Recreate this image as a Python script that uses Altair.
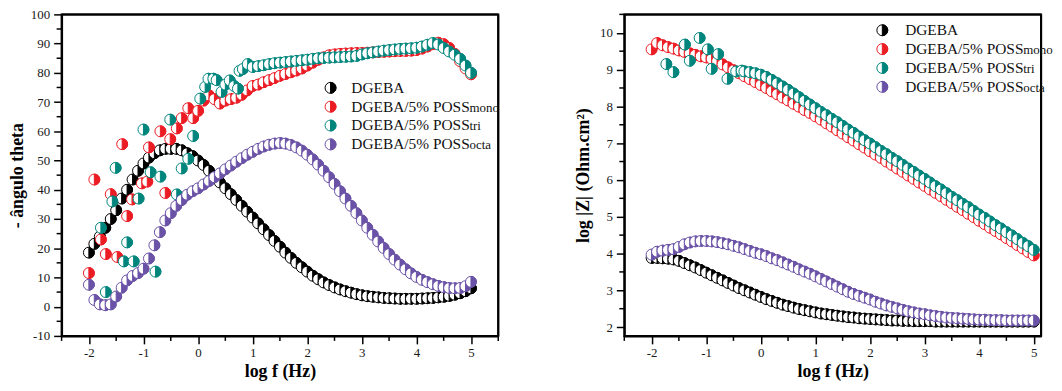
import altair as alt
import pandas as pd

SERIF = "Liberation Serif"

# ---------------- data ----------------
LOGF = [-2.0, -1.9, -1.8, -1.7, -1.6, -1.5, -1.4, -1.3, -1.2, -1.1,
        -1.0, -0.9, -0.8, -0.7, -0.6, -0.5, -0.4, -0.3, -0.2, -0.1,
        0.0, 0.1, 0.2, 0.3, 0.4, 0.5, 0.6, 0.7, 0.8, 0.9,
        1.0, 1.1, 1.2, 1.3, 1.4, 1.5, 1.6, 1.7, 1.8, 1.9,
        2.0, 2.1, 2.2, 2.3, 2.4, 2.5, 2.6, 2.7, 2.8, 2.9,
        3.0, 3.1, 3.2, 3.3, 3.4, 3.5, 3.6, 3.7, 3.8, 3.9,
        4.0, 4.1, 4.2, 4.3, 4.4, 4.5, 4.6, 4.7, 4.8, 4.9, 5.0]

# phase angle (left panel)
PHASE_DGEBA = [18.5, 21.5, 24, 27, 30, 33, 37, 40, 43.5, 46.5,
               49, 51, 52.5, 53.5, 54, 54, 54, 53.5, 52.5, 51.5,
               50, 48.5, 46.5, 44.5, 42.5, 40.5, 38.5, 36.5, 34.5, 32.5,
               30.5, 28.5, 26.5, 24.5, 22.5, 20.5, 18.5, 16.7, 15, 13.5,
               12, 10.6, 9.4, 8.3, 7.4, 6.6, 5.9, 5.3, 4.8, 4.3,
               3.9, 3.6, 3.4, 3.2, 3.0, 2.9, 2.8, 2.7, 2.7, 2.7,
               2.7, 2.8, 2.9, 3.0, 3.2, 3.4, 3.7, 4.1, 4.6, 5.3, 6.3]

PHASE_OCTA = [7.5, 2.3, 0.8, 0.5, 0.8, 3.5, 6.5, 9, 10.5, 11.5,
              13, 16.5, 21, 25.5, 29.5, 32, 34.5, 36.5, 38.3, 39.5,
              40.5, 41.8, 43, 44.3, 45.6, 47, 48.3, 49.6, 50.8, 52,
              53, 54, 54.8, 55.4, 55.8, 56, 55.8, 55.3, 54.5, 53.4,
              52, 50.4, 48.6, 46.5, 44.3, 42, 39.5, 37, 34.5, 32,
              29.5, 27, 24.6, 22.3, 20.1, 18, 16.1, 14.4, 12.8, 11.4,
              10.2, 9.2, 8.4, 7.7, 7.1, 6.7, 6.4, 6.3, 6.4, 7.0, 8.5]

PHASE_MONO_LOW_X = [-2.0, -1.9, -1.78, -1.69, -1.6, -1.48, -1.39, -1.3, -1.21, -1.03,
                    -0.93, -0.9, -0.69, -0.6, -0.51, -0.39, -0.3, -0.18, -0.09, 0.0,
                    0.1, 0.2, 0.3, 0.4, 0.5, 0.6, 0.7, 0.8, 0.9, 1.0]
PHASE_MONO_LOW_Y = [11.5, 43.5, 23, 18, 38.5, 17, 55.6, 31, 36.7, 42.2,
                    42.8, 54.5, 60, 38.9, 57.3, 61, 64.5, 67.9, 64.5, 67,
                    70.5, 72.3, 71, 69.5, 70.5, 71, 71.5, 72.5, 74, 75.5]
PHASE_MONO_HIGH_Y = [76, 76.8, 77.5, 78.2, 79, 79.6, 80.2, 80.8, 81.5, 82.5,
                     83.5, 84.5, 85.3, 86, 86.3, 86.5, 86.6, 86.7, 86.8, 86.8,
                     86.9, 87, 87.1, 87.2, 87.3, 87.4, 87.5, 87.5, 87.6, 87.8,
                     88.3, 89, 89.8, 90.3, 89.8, 88.5, 86.5, 84, 81.5, 79.5]

PHASE_TRI_LOW_X = [-1.78, -1.69, -1.57, -1.51, -1.36, -1.3, -1.18, -1.09, -1.0, -0.87,
                   -0.78, -0.69, -0.51, -0.39, -0.3, -0.18, -0.09, 0.04, 0.13, 0.19,
                   0.28, 0.34, 0.43, 0.5, 0.58, 0.66, 0.73, 0.76, 0.82, 0.91]
PHASE_TRI_LOW_Y = [27, 5, 36, 47.5, 15.5, 22, 15.5, 37, 60.6, 46,
                   12, 44.5, 64, 38.4, 47.3, 50.6, 58.4, 71.2, 75.2, 78,
                   78, 77.5, 73.5, 76, 77.4, 75.5, 74.6, 80.7, 81.3, 83]
PHASE_TRI_HIGH_Y = [82,
                    82.3, 82.6, 83, 83.3, 83.5, 83.7, 83.9, 84.1, 84.3, 84.5,
                    84.8, 85, 85.1, 85.2, 85.3, 85.4, 85.5, 85.6, 85.8, 86.3,
                    86.7, 87, 87.3, 87.6, 87.8, 88, 88.2, 88.3, 88.4, 88.6,
                    89, 89.6, 90.2, 89.7, 88.5, 87.3, 86.2, 84.8, 82.5, 80]

# log |Z| (right panel)
LOGZ_DGEBA = [3.88, 3.88, 3.87, 3.86, 3.84, 3.8, 3.74, 3.68, 3.62, 3.55,
              3.48, 3.41, 3.34, 3.27, 3.2, 3.13, 3.06, 3.0, 2.94, 2.88,
              2.82, 2.76, 2.71, 2.66, 2.61, 2.57, 2.53, 2.49, 2.46, 2.43,
              2.4, 2.37, 2.35, 2.33, 2.31, 2.29, 2.27, 2.26, 2.24, 2.23,
              2.22, 2.21, 2.2, 2.19, 2.18, 2.18, 2.17, 2.17, 2.16, 2.16,
              2.16, 2.16, 2.15, 2.15, 2.15, 2.15, 2.15, 2.15, 2.15, 2.15,
              2.15, 2.15, 2.15, 2.15, 2.15, 2.15, 2.15, 2.15, 2.15, 2.15, 2.15]

LOGZ_MONO = [9.55, 9.72, 9.66, 9.61, 9.57, 9.52, 9.48, 9.44, 9.4, 9.36,
             9.33, 9.29, 9.23, 9.14, 9.06, 8.98, 8.9, 8.82, 8.74, 8.66,
             8.58, 8.5, 8.41, 8.33, 8.24, 8.16, 8.07, 7.99, 7.9, 7.82,
             7.73, 7.64, 7.54, 7.45, 7.35, 7.26, 7.16, 7.07, 6.97, 6.88,
             6.78, 6.69, 6.6, 6.5, 6.41, 6.31, 6.22, 6.12, 6.03, 5.93,
             5.84, 5.74, 5.65, 5.56, 5.46, 5.37, 5.27, 5.18, 5.08, 4.99,
             4.89, 4.8, 4.7, 4.61, 4.52, 4.42, 4.33, 4.23, 4.14, 4.04, 3.95]

LOGZ_TRI_LOW_X = [-1.73, -1.6, -1.39, -1.3, -1.12, -0.97, -0.9, -0.78, -0.61, -0.45, -0.35]
LOGZ_TRI_LOW_Y = [9.15, 8.93, 9.68, 9.24, 9.86, 9.55, 9.02, 9.42, 8.75, 8.95, 8.97]
LOGZ_TRI_HIGH_Y = [8.95, 8.93, 8.9, 8.86, 8.8, 8.72, 8.63, 8.54, 8.45, 8.35,
                   8.25, 8.15, 8.05, 7.95,
                   7.85, 7.76, 7.66, 7.57, 7.47, 7.37, 7.28, 7.18, 7.08, 6.99,
                   6.89, 6.79, 6.7, 6.6, 6.51, 6.41, 6.31, 6.22, 6.12, 6.03,
                   5.93, 5.83, 5.74, 5.64, 5.54, 5.45, 5.35, 5.26, 5.16, 5.06,
                   4.97, 4.87, 4.77, 4.68, 4.58, 4.49, 4.39, 4.29, 4.2, 4.1]

LOGZ_OCTA = [3.97, 4.05, 4.08, 4.1, 4.12, 4.18, 4.25, 4.3, 4.33, 4.34,
             4.34, 4.33, 4.31, 4.28, 4.25, 4.21, 4.17, 4.12, 4.07, 4.02,
             3.98, 3.93, 3.87, 3.82, 3.76, 3.7, 3.64, 3.57, 3.51, 3.45,
             3.38, 3.31, 3.24, 3.17, 3.1, 3.03, 2.96, 2.9, 2.85, 2.8,
             2.75, 2.69, 2.64, 2.59, 2.55, 2.51, 2.47, 2.43, 2.4, 2.37,
             2.35, 2.32, 2.3, 2.28, 2.26, 2.25, 2.24, 2.23, 2.22, 2.21,
             2.2, 2.2, 2.19, 2.19, 2.19, 2.18, 2.18, 2.18, 2.18, 2.18, 2.18]

SERIES = ["DGEBA", "mono", "tri", "octa"]
COLORS = ["#000000", "#ec1c24", "#00857c", "#6a52a6"]
LEGEND_MAIN = ["DGEBA", "DGEBA/5% POSS", "DGEBA/5% POSS", "DGEBA/5% POSS"]
LEGEND_SUB = ["", "mono", "tri", "octa"]

X_TICKS = [-2, -1, 0, 1, 2, 3, 4, 5]
X1_MINOR = [-2.5, -1.5, -0.5, 0.5, 1.5, 2.5, 3.5, 4.5, 5.5]
X2_MINOR = [-2.5, -1.5, -0.5, 0.5, 1.5, 2.5, 3.5, 4.5]
Y1_TICKS = [-10, 0, 10, 20, 30, 40, 50, 60, 70, 80, 90, 100]
Y1_MINOR = [-5, 5, 15, 25, 35, 45, 55, 65, 75, 85, 95]
Y2_TICKS = [2, 3, 4, 5, 6, 7, 8, 9, 10]
Y2_MINOR = [2.5, 3.5, 4.5, 5.5, 6.5, 7.5, 8.5, 9.5, 10.5]

# ---------------- helpers ----------------
HALF = "M0,-1A1,1 0 0,1 0,1Z"   # right half of a unit circle
fill_scale = alt.Scale(domain=["white"] + SERIES, range=["#ffffff"] + COLORS)
stroke_scale = alt.Scale(domain=SERIES, range=COLORS)
shape_scale = alt.Scale(domain=["w", "c"], range=["circle", HALF])
MSIZE = 121
PH = 324  # plot height


def build_points(series_list):
    rows = []
    seq = 0
    for name, xs, ys in series_list:
        for x, y in zip(xs, ys):
            rows.append(dict(x=x, y=y, series=name, half="w", key="white", seq=seq))
            seq += 1
            rows.append(dict(x=x, y=y, series=name, half="c", key=name, seq=seq))
            seq += 1
    return pd.DataFrame(rows)


def style_enc():
    return dict(
        fill=alt.Fill("key:N", scale=fill_scale, legend=None),
        stroke=alt.Stroke("series:N", scale=stroke_scale, legend=None),
        shape=alt.Shape("half:N", scale=shape_scale, legend=None),
    )


LABEL_EXPR = "datum.value < 0 ? '-' + abs(datum.value) : '' + datum.value"


def make_axis(values, title, **kw):
    return alt.Axis(values=values, title=title, labelExpr=LABEL_EXPR, grid=False,
                    domainColor="black", domainWidth=2,
                    tickColor="black", tickWidth=1.5, tickSize=8,
                    labelFont=SERIF, labelFontSize=13, labelColor="#1a1a1a",
                    labelOverlap=False, labelFlush=False,
                    titleFont=SERIF, titleFontSize=18, titleFontWeight="bold",
                    titleColor="black", **kw)


def panel(df, xdom, ydom, w, h, yticks, yminor, xminor, ytitle, ypad, yext,
          leg_mx, leg_tx, leg_y0, leg_dy):
    xs = alt.Scale(domain=xdom, nice=False, zero=False)
    ys = alt.Scale(domain=ydom, nice=False, zero=False)
    xax = make_axis(X_TICKS, "log f (Hz)", labelPadding=3, titlePadding=3)
    yax = make_axis(yticks, ytitle, labelPadding=4, titlePadding=ypad,
                    minExtent=yext, maxExtent=yext)
    pts = alt.Chart(df).mark_point(filled=True, size=MSIZE, strokeWidth=1, opacity=1).encode(
        x=alt.X("x:Q", scale=xs, axis=xax),
        y=alt.Y("y:Q", scale=ys, axis=yax),
        order=alt.Order("seq:Q"),
        **style_enc(),
    )
    ymin = alt.Chart(pd.DataFrame({"y": yminor})).mark_rule(color="black", strokeWidth=1.5).encode(
        y=alt.Y("y:Q", scale=ys, axis=yax), x=alt.value(-5), x2=alt.value(0))
    xmin = alt.Chart(pd.DataFrame({"x": xminor})).mark_rule(color="black", strokeWidth=1.5).encode(
        x=alt.X("x:Q", scale=xs, axis=xax), y=alt.value(h), y2=alt.value(h + 5))
    one = pd.DataFrame({"k": [0]})
    top = alt.Chart(one).mark_rule(color="black", strokeWidth=2).encode(
        x=alt.value(0), x2=alt.value(w), y=alt.value(0))
    rgt = alt.Chart(one).mark_rule(color="black", strokeWidth=2).encode(
        x=alt.value(w), y=alt.value(0), y2=alt.value(h))
    layers = [pts, ymin, xmin, top, rgt]
    for i, s in enumerate(SERIES):
        ly = leg_y0 + i * leg_dy
        ldf = pd.DataFrame({"series": [s, s], "half": ["w", "c"], "key": ["white", s]})
        layers.append(alt.Chart(ldf).mark_point(filled=True, size=MSIZE, strokeWidth=1, opacity=1).encode(
            x=alt.value(leg_mx), y=alt.value(ly), **style_enc()))
        layers.append(alt.Chart(pd.DataFrame({"t": [LEGEND_MAIN[i]]})).mark_text(
            font=SERIF, fontSize=15.5, align="left", baseline="alphabetic", color="#111111").encode(
            x=alt.value(leg_tx), y=alt.value(ly + 5), text="t:N"))
        if LEGEND_SUB[i]:
            layers.append(alt.Chart(pd.DataFrame({"t": [LEGEND_SUB[i]]})).mark_text(
                font=SERIF, fontSize=13, align="left", baseline="alphabetic", color="#111111").encode(
                x=alt.value(leg_tx + 119), y=alt.value(ly + 5), text="t:N"))
    return alt.layer(*layers).properties(width=w, height=h)


phase_df = build_points([
    ("DGEBA", LOGF, PHASE_DGEBA),
    ("mono", PHASE_MONO_LOW_X + LOGF[31:], PHASE_MONO_LOW_Y + PHASE_MONO_HIGH_Y),
    ("tri", PHASE_TRI_LOW_X + LOGF[30:], PHASE_TRI_LOW_Y + PHASE_TRI_HIGH_Y),
    ("octa", LOGF, PHASE_OCTA),
])
logz_df = build_points([
    ("DGEBA", LOGF, LOGZ_DGEBA),
    ("mono", LOGF, LOGZ_MONO),
    ("tri", LOGZ_TRI_LOW_X + LOGF[17:], LOGZ_TRI_LOW_Y + LOGZ_TRI_HIGH_Y),
    ("octa", LOGF, LOGZ_OCTA),
])

left = panel(phase_df, [-2.5, 5.5], [-10, 100], 440, PH, Y1_TICKS, Y1_MINOR, X1_MINOR,
             "- ângulo theta", 3, 32, 271, 292, 74, 19)
right = panel(logz_df, [-2.5, 5.136], [1.76, 10.5], 420, PH, Y2_TICKS, Y2_MINOR, X2_MINOR,
              "log |Z| (Ohm.cm²)", 7, 25, 260, 283, 16, 19)

chart = alt.hconcat(left, right, spacing=74).properties(
    padding={"left": 0, "top": -2, "right": 0, "bottom": 0},
    background="white",
).configure_view(
    stroke="black", strokeWidth=2
).configure_axis(
    grid=False, domainColor="black", domainWidth=2,
    tickColor="black", tickWidth=1.5, tickSize=8,
    labelFont=SERIF, labelFontSize=13, labelColor="#1a1a1a",
    labelOverlap=False, labelFlush=False,
    titleFont=SERIF, titleFontSize=18, titleFontWeight="bold", titleColor="black",
)

chart.save("out.html", embed_options={"renderer": "svg", "actions": False})
